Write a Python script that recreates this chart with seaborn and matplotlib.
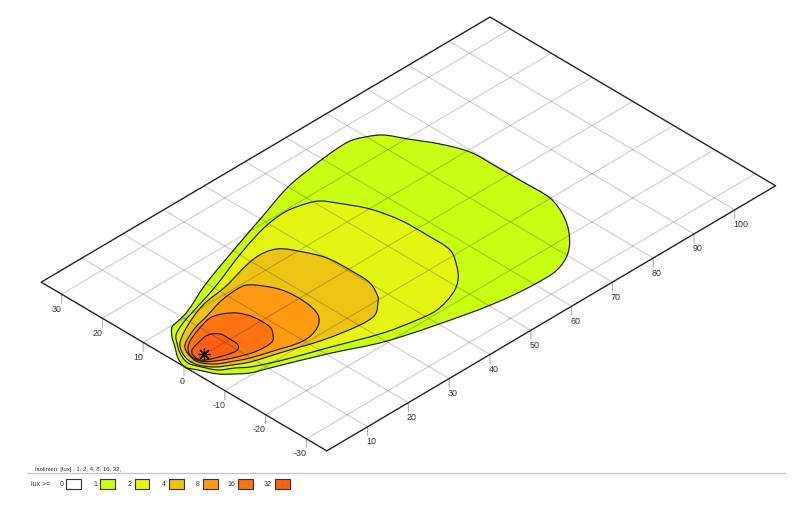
import numpy as np
import matplotlib
matplotlib.use("Agg")
import matplotlib.pyplot as plt
from matplotlib.path import Path
from matplotlib.patches import PathPatch, Rectangle
from matplotlib.transforms import Affine2D
import seaborn as sns

# ---- data (metres on the ground plane, lux levels) ----
plane_x = [0, 110]
plane_y = [-35, 35]
x_ticks = [10, 20, 30, 40, 50, 60, 70, 80, 90, 100]
y_ticks = [-30, -20, -10, 0, 10, 20, 30]
levels = ["0", "1", "2", "4", "8", "16", "32"]
level_colors = ["#ffffff", "#c8ff14", "#e4f514", "#ecc414", "#ff9a12", "#ff7410", "#ff5f10"]
lamp_x = [5.0]
lamp_y = [0.0]

c1_x = [0.0, 1.03, 2.94, 4.65, 6.73, 8.37, 11.68, 19.48, 29.64, 40.57, 49.98, 57.08, 63.42, 67.13, 69.8, 72.42, 74.65, 77.53, 79.55, 79.75, 79.82, 79.81, 77.88, 74.88, 70.61, 65.73, 60.58, 53.8, 46.15, 30.17, 20.12, 10.23, 6.74, 4.7, 2.61, 0.99]
c1_y = [-0.2, 2.5, 5.15, 7.59, 9.67, 10.09, 10.94, 14.33, 17.87, 21.46, 24.5, 25.7, 26.41, 26.44, 25.43, 23.64, 19.75, 14.79, 9.45, 3.03, -3.27, -9.9, -15.01, -19.49, -23.51, -25.69, -25.93, -25.37, -23.95, -19.59, -14.93, -10.85, -9.44, -7.8, -5.72, -2.44]
c2_x = [1.22, 2.31, 4.02, 5.55, 8.9, 11.42, 20.3, 30.87, 38.87, 44.43, 48.55, 51.0, 52.67, 55.47, 56.87, 57.06, 56.77, 54.1, 51.53, 48.22, 42.73, 38.2, 31.34, 21.37, 13.48, 7.99, 5.94, 3.44, 2.1]
c2_y = [0.24, 3.29, 5.73, 7.51, 9.15, 9.95, 12.69, 16.65, 19.02, 19.68, 18.89, 17.67, 15.17, 9.88, 3.92, -2.5, -8.43, -12.81, -15.63, -17.72, -19.28, -18.91, -17.44, -13.69, -10.78, -8.2, -6.56, -4.89, -2.31]
c3_x = [1.93, 3.06, 4.6, 9.1, 15.09, 21.52, 31.21, 35.78, 38.34, 40.04, 40.37, 40.12, 38.2, 37.16, 34.09, 30.18, 22.54, 15.14, 9.03, 6.19, 3.7, 2.03]
c3_y = [1.19, 3.79, 5.58, 8.12, 10.43, 11.47, 13.81, 12.99, 9.17, 4.99, -0.33, -5.47, -9.36, -10.4, -12.72, -12.96, -11.54, -9.12, -7.16, -5.57, -3.9, -1.4]
c4_x = [3.0, 3.97, 5.33, 9.34, 13.3, 18.45, 23.93, 25.61, 27.88, 28.21, 27.11, 24.29, 19.87, 13.55, 9.85, 7.39, 4.32, 2.65]
c4_y = [1.77, 3.72, 4.84, 6.64, 7.66, 9.14, 9.47, 8.21, 3.86, -1.45, -5.74, -8.31, -9.3, -7.53, -6.33, -5.11, -3.28, -0.78]
c5_x = [3.12, 4.33, 6.02, 9.29, 13.25, 15.55, 17.6, 18.73, 18.74, 17.44, 15.87, 12.16, 8.47, 4.94, 3.1]
c5_y = [1.65, 3.35, 4.55, 5.86, 6.88, 6.24, 4.61, 1.81, -2.35, -4.37, -5.7, -5.73, -4.53, -2.66, -0.82]
c6_x = [3.49, 4.41, 6.59, 9.48, 11.16, 11.31, 11.08, 9.59, 5.57, 3.31]
c6_y = [1.28, 2.45, 3.16, 3.6, 2.34, 0.53, -2.16, -3.16, -2.03, -0.61]
contours = [(c1_x, c1_y), (c2_x, c2_y), (c3_x, c3_y), (c4_x, c4_y), (c5_x, c5_y), (c6_x, c6_y)]

# ---- figure ----
sns.set_theme(style="white")
plt.rcParams["font.family"] = ["Liberation Sans", "DejaVu Sans"]
fig = plt.figure(figsize=(8, 5.12), dpi=100)
ax = fig.add_axes([0, 0, 1, 1])
ax.set_xlim(0, 800)
ax.set_ylim(512, 0)
ax.axis("off")

# oblique ground-plane projection
ground = Affine2D.from_values(4.08, -2.41, -4.08, -2.41, 184, 366.5)
T = ground + ax.transData


def smooth_path(xs, ys):
    # closed outline through the read points; tangents scaled to each segment's length
    p = np.column_stack([xs, ys])
    nxt = np.roll(p, -1, 0)
    prev = np.roll(p, 1, 0)
    tan = nxt - prev
    tan = tan / np.linalg.norm(tan, axis=1, keepdims=True)
    seg = np.linalg.norm(nxt - p, axis=1, keepdims=True)
    c1 = p + tan * seg / 3
    c2 = nxt - np.roll(tan, -1, 0) * seg / 3
    verts = [p[0]]
    codes = [Path.MOVETO]
    for a, b, e in zip(c1, c2, nxt):
        verts += [a, b, e]
        codes += [Path.CURVE4] * 3
    return Path(np.array(verts), codes)


for (xs, ys), col in zip(contours, level_colors[1:]):
    ax.add_patch(PathPatch(smooth_path(xs, ys), facecolor=col, edgecolor="#1c1c10",
                           lw=0.85, transform=T, zorder=2))

# grid, drawn over the fill
grid_kw = dict(color="black", alpha=0.2, lw=0.8, sort=False, estimator=None,
               legend=False, transform=T, ax=ax, zorder=3)
for xv in x_ticks:
    sns.lineplot(x=[xv, xv], y=plane_y, **grid_kw)
for yv in y_ticks:
    sns.lineplot(x=plane_x, y=[yv, yv], **grid_kw)

# plate outline
sns.lineplot(x=[plane_x[0], plane_x[1], plane_x[1], plane_x[0], plane_x[0]],
             y=[plane_y[0], plane_y[0], plane_y[1], plane_y[1], plane_y[0]],
             color="#222222", lw=1.0, sort=False, estimator=None, legend=False,
             transform=T, ax=ax, zorder=4)

# ticks and labels
def tick(xv, yv, label, dx, ha):
    ax.annotate("", xy=(xv, yv), xycoords=T, xytext=(0, -9), textcoords="offset pixels",
                arrowprops=dict(arrowstyle="-", color="#b0b0b0", lw=0.8, shrinkA=0, shrinkB=0))
    ax.annotate(label, xy=(xv, yv), xycoords=T, xytext=(dx, -15), textcoords="offset pixels",
                ha=ha, va="center", fontsize=6.4, color="#333333")


for xv in x_ticks:
    tick(xv, plane_y[0], str(xv), -1.5, "left")
for yv in y_ticks:
    tick(plane_x[0], yv, str(yv), 0.5, "right")

# lamp position
ax.plot(lamp_x, lamp_y, transform=T, marker=(8, 2, 0), ms=9, mew=0.9, color="#111111",
        ls="none", zorder=5)

# legend strip
ax.text(35, 469, "Isolinien  [lux] : 1, 2, 4, 8, 16, 32,", fontsize=4.3, color="#333333",
        ha="left", va="center")
ax.plot([27, 785], [473, 473], color="#c4c4c4", lw=0.9)
ax.text(31, 484.5, "lux >=", fontsize=5, color="#333333", ha="left", va="center")
swatch_left = [66, 100, 134.5, 169, 203, 238, 275]
label_right = [63.5, 97, 132, 166, 200, 235, 272]
for lev, col, sx, lx in zip(levels, level_colors, swatch_left, label_right):
    ax.text(lx, 484.5, lev, fontsize=5, color="#333333", ha="right", va="center")
    ax.add_patch(Rectangle((sx, 479), 14.5, 9.5, facecolor=col, edgecolor="#333333", lw=0.8))

fig.savefig("out.png", dpi=100)
